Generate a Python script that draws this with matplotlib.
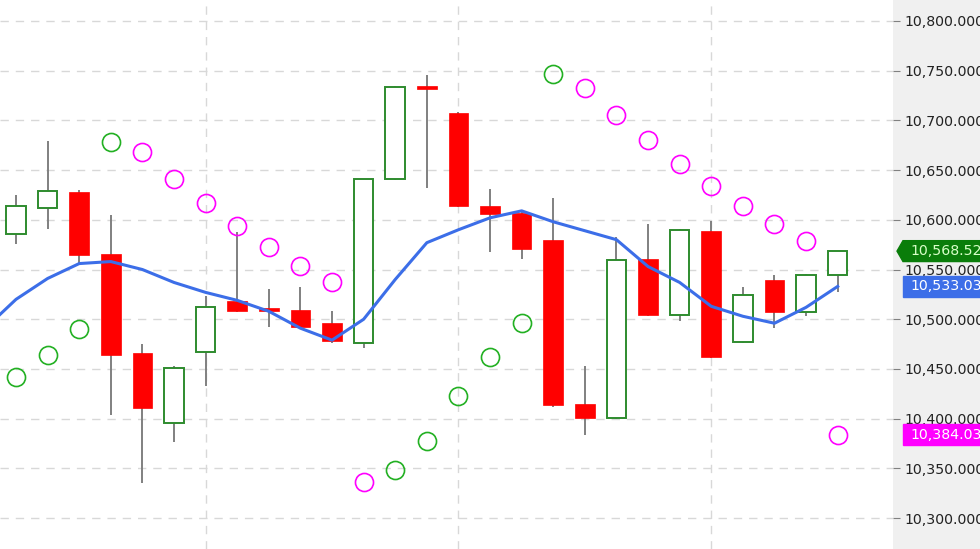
import matplotlib.pyplot as plt
from matplotlib.patches import Rectangle, Polygon
from matplotlib.transforms import blended_transform_factory

# %% Data

opens = [10586, 10612, 10628, 10566, 10466, 10396, 10467, 10518, 10511, 10509,
         10496, 10476, 10641, 10734, 10707, 10614, 10607, 10580, 10415, 10401,
         10561, 10504, 10589, 10477, 10539, 10507, 10545]
highs = [10625, 10679, 10630, 10605, 10475, 10453, 10523, 10588, 10530, 10532,
         10508, 10641, 10735, 10746, 10708, 10631, 10609, 10622, 10453, 10583,
         10596, 10591, 10599, 10532, 10544, 10546, 10569]
lows = [10576, 10591, 10556, 10404, 10335, 10377, 10433, 10507, 10492, 10491,
        10476, 10471, 10640, 10632, 10613, 10568, 10561, 10412, 10384, 10400,
        10503, 10498, 10461, 10476, 10491, 10503, 10527]
closes = [10614, 10629, 10565, 10464, 10411, 10451, 10512, 10508, 10508, 10492,
          10478, 10641, 10734, 10732, 10614, 10606, 10571, 10414, 10401, 10560,
          10504, 10590, 10462, 10524, 10507, 10545, 10568.52]

# moving average, first value belongs to the bar just left of the view
ma = [10490, 10520, 10541, 10556, 10558, 10550, 10537, 10527, 10519, 10508,
      10491, 10479, 10500, 10540, 10577, 10590, 10602, 10609, 10598, 10589,
      10580, 10553, 10537, 10513, 10503, 10496, 10512, 10533.03]

# parabolic SAR and its state (1 = long/green, -1 = short/magenta)
sar = [10442, 10464, 10490, 10678, 10668, 10641, 10617, 10594, 10573, 10554,
       10537, 10336, 10348, 10378, 10423, 10462, 10496, 10747, 10733, 10705,
       10680, 10656, 10634, 10614, 10596, 10579, 10384.03]
sar_state = [1, 1, 1, 1, -1, -1, -1, -1, -1, -1,
             -1, -1, 1, 1, 1, 1, 1, 1, -1, -1,
             -1, -1, -1, -1, -1, -1, -1]

yticks = list(range(10300, 10801, 50))

# %% Plot

GREEN = "#2e8b2e"
RED = "#ff0000"
BLUE = "#3c6ee8"
MAGENTA = "#ff00ff"

fig = plt.figure(figsize=(9.8, 5.49), dpi=100)
ax = fig.add_axes([0, 0, 893 / 980, 1])

# right price panel
fig.add_artist(Rectangle((893 / 980, 0), 1 - 893 / 980, 1, transform=fig.transFigure,
                         color="#f0f0f0", zorder=-1))

n = len(opens)
xs = list(range(n))
w = 0.62

# wicks
ax.vlines(xs, lows, highs, color="#808080", lw=1.4, zorder=2)

# bodies
for i, (o, c) in enumerate(zip(opens, closes)):
    lo, hi = min(o, c), max(o, c)
    h = max(hi - lo, 2.5)
    if c >= o:
        p = Rectangle((i - w / 2, lo), w, h, facecolor="white", edgecolor=GREEN,
                      lw=1.4, zorder=3)
    else:
        p = Rectangle((i - w / 2, lo), w, h, facecolor=RED, edgecolor=RED,
                      lw=0.5, zorder=3)
    ax.add_patch(p)

# moving average
ax.plot(range(-1, n), ma, color=BLUE, lw=2.2, zorder=4, solid_joinstyle="round")

# SAR circles
for i, (v, s) in enumerate(zip(sar, sar_state)):
    ax.plot(i, v, "o", ms=13, mfc="none", mec="#22b022" if s > 0 else MAGENTA,
            mew=1.2, zorder=5)

# grid
for y in yticks:
    ax.axhline(y, color="#d8d8d8", lw=1, ls=(0, (6, 5)), zorder=0)
for x in [6, 14, 22]:
    ax.axvline(x, color="#d8d8d8", lw=1, ls=(0, (6, 5)), zorder=0)

ax.set_xlim(-0.506, 27.75)
ax.set_ylim(10269, 10821)

for s in ax.spines.values():
    s.set_visible(False)
ax.xaxis.set_major_locator(plt.NullLocator())
ax.yaxis.tick_right()
ax.set_yticks(yticks)
ax.set_yticklabels([f"{v:,.3f}" for v in yticks])
ax.tick_params(axis="y", length=5, color="#808080", pad=3, labelsize=10.2,
               labelcolor="#222222")

# value tags on the price panel
tr = blended_transform_factory(fig.transFigure, ax.transData)
hh = 10.5
x0 = 897 / 980
x1 = 903 / 980
last = closes[-1]
fig.add_artist(Polygon([(x0, last), (x1, last + hh), (1, last + hh), (1, last - hh),
                        (x1, last - hh)], closed=True, transform=tr,
                       color="#0a7d0a", zorder=3))
fig.text(910 / 980, last, f"{last:,.2f}", transform=tr, va="center", ha="left",
         fontsize=10.2, color="#d8ffc8", zorder=4)

for val, col in [(ma[-1], BLUE), (sar[-1], MAGENTA)]:
    fig.add_artist(Rectangle((x1, val - hh), 1 - x1, 2 * hh, transform=tr,
                             color=col, zorder=3))
    fig.text(910 / 980, val, f"{val:,.2f}", transform=tr, va="center", ha="left",
             fontsize=10.2, color="white", zorder=4)

fig.savefig("out.png", dpi=100)
